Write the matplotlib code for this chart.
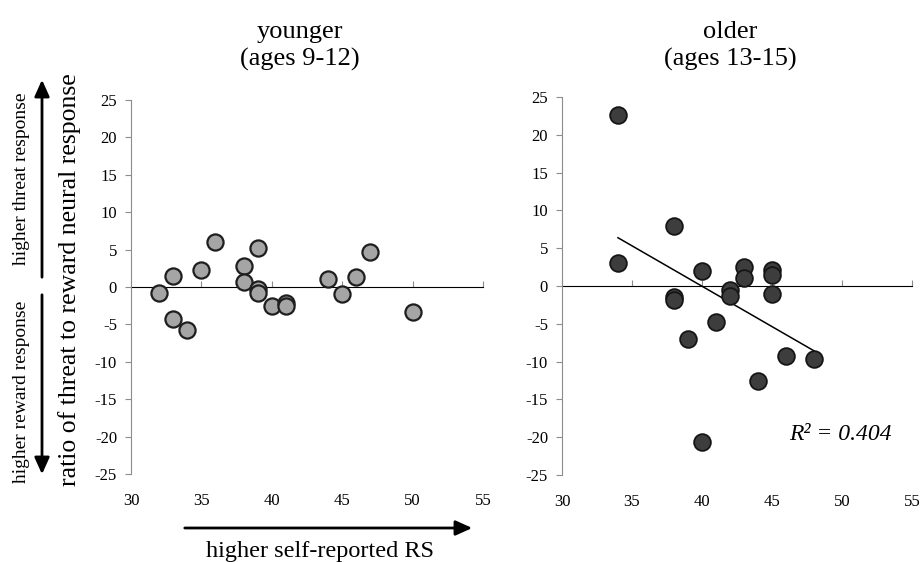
import numpy as np
import matplotlib.pyplot as plt
from matplotlib.patches import FancyArrowPatch

plt.rcParams['font.family'] = ['Liberation Serif', 'DejaVu Serif']
plt.rcParams['axes.unicode_minus'] = False

# younger group (ages 9-12)
young_rs = [32, 33, 33, 34, 35, 36, 38, 38, 39, 39, 39, 40, 41, 41, 44, 45, 46, 47, 50]
young_ratio = [-0.8, 1.5, -4.3, -5.8, 2.3, 6.0, 2.8, 0.7, 5.2, -0.3, -0.8, -2.5, -2.2, -2.5,
               1.1, -1.0, 1.3, 4.7, -3.3]

# older group (ages 13-15)
old_rs = [34, 34, 38, 38, 38, 39, 40, 40, 41, 42, 42, 43, 43, 44, 45, 45, 45, 46, 48]
old_ratio = [22.6, 3.1, 7.9, -1.4, -1.85, -7.0, 2.0, -20.7, -4.7, -0.5, -1.3, 2.55, 1.0,
             -12.6, 2.1, 1.5, -1.0, -9.2, -9.7]

xticks = [30, 35, 40, 45, 50, 55]
yticks = [25, 20, 15, 10, 5, 0, -5, -10, -15, -20, -25]

fig = plt.figure(figsize=(9.21, 5.62), dpi=100)
ax1 = fig.add_axes([0.1422, 0.1566, 0.3822, 0.6655])
ax2 = fig.add_axes([0.6102, 0.1548, 0.3800, 0.6726])

grey = '#8c8c8c'


def style(ax):
    ax.set_xlim(30, 55)
    ax.set_ylim(-25, 25)
    ax.set_xticks(xticks)
    ax.set_yticks(yticks)
    for s in ['top', 'right', 'bottom']:
        ax.spines[s].set_visible(False)
    ax.spines['left'].set_color(grey)
    ax.tick_params(axis='y', direction='out', length=4, color=grey, labelsize=12, pad=6)
    ax.tick_params(axis='x', length=0, labelsize=12, pad=14)
    # horizontal axis line crossing at y = 0
    sec = ax.secondary_xaxis(0.5)
    sec.set_xticks(xticks)
    sec.spines['bottom'].set_color(grey)
    sec.tick_params(direction='out', length=4, color=grey, labelbottom=False)
    sec.set_xticklabels([])


style(ax1)
style(ax2)

ax1.scatter(young_rs, young_ratio, s=135, facecolor='#a5a5a5', edgecolor='#1e1e1e',
            linewidth=1.6, zorder=3, clip_on=False)
ax2.scatter(old_rs, old_ratio, s=145, facecolor='#3d3d3d', edgecolor='#151515',
            linewidth=1.3, zorder=3, clip_on=False)

# linear trend line for the older group
slope, icpt = np.polyfit(old_rs, old_ratio, 1)
xl = np.array([min(old_rs), max(old_rs)])
ax2.plot(xl, slope * xl + icpt, color='black', linewidth=1.1, zorder=2)
ax2.text(49.9, -19.7, 'R² = 0.404', fontsize=17, style='italic', ha='center', va='center')

# titles
fig.text(300 / 921, 1 - 46 / 562, 'younger\n(ages 9-12)', ha='center', va='center',
         fontsize=19, linespacing=1.25)
fig.text(730 / 921, 1 - 46 / 562, 'older\n(ages 13-15)', ha='center', va='center',
         fontsize=19, linespacing=1.25)

# y-axis annotations
fig.text(70 / 921, 1 - 280 / 562, 'ratio of threat to reward neural response', rotation=90,
         ha='center', va='center', fontsize=18.5)
fig.text(22 / 921, 1 - 179 / 562, 'higher threat response', rotation=90,
         ha='center', va='center', fontsize=14)
fig.text(22 / 921, 1 - 392 / 562, 'higher reward response', rotation=90,
         ha='center', va='center', fontsize=14)
head = '-|>,head_width=4.5,head_length=10'
fig.patches.append(FancyArrowPatch((42 / 921, 1 - 280 / 562), (42 / 921, 1 - 77 / 562),
                                   transform=fig.transFigure, arrowstyle=head,
                                   color='black', lw=2, mutation_scale=1))
fig.patches.append(FancyArrowPatch((42 / 921, 1 - 292 / 562), (42 / 921, 1 - 477 / 562),
                                   transform=fig.transFigure, arrowstyle=head,
                                   color='black', lw=2, mutation_scale=1))

# x-axis annotation
fig.patches.append(FancyArrowPatch((182 / 921, 1 - 528 / 562), (475 / 921, 1 - 528 / 562),
                                   transform=fig.transFigure, arrowstyle=head,
                                   color='black', lw=2, mutation_scale=1))
fig.text(320 / 921, 1 - 551 / 562, 'higher self-reported RS', ha='center', va='center',
         fontsize=17.5)

fig.savefig('out.png', dpi=100)
